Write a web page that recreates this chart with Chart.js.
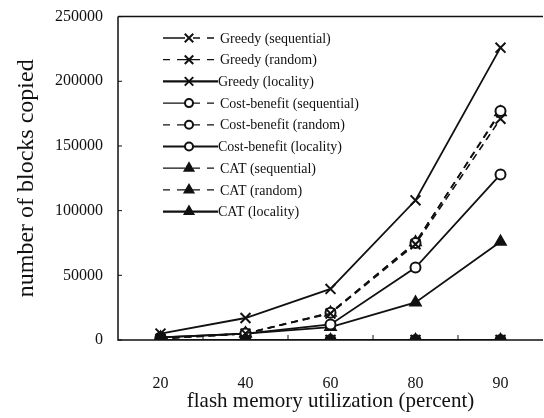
<!DOCTYPE html>
<html>
<head>
<meta charset="utf-8">
<script src="https://cdn.jsdelivr.net/npm/chart.js@4.4.1/dist/chart.umd.min.js"></script>
<style>
  html, body { margin: 0; padding: 0; background: #fff; overflow: hidden; }
  #wrap { width: 544px; height: 418px; overflow: hidden; }
</style>
</head>
<body>
<div id="wrap"><canvas id="chart" width="552" height="418"></canvas></div>
<script>
const utilization = ["20", "40", "60", "80", "90"];
const yTicks = [0, 50000, 100000, 150000, 200000, 250000];

const greedySeq = [0, 0, 0, 0, 0];
const greedyRand = [1000, 5000, 20500, 74000, 171000];
const greedyLoc = [5000, 17000, 39500, 108000, 226000];
const costSeq = [0, 0, 0, 0, 0];
const costRand = [1000, 5000, 21000, 75000, 177000];
const costLoc = [2000, 5000, 12000, 56000, 128000];
const catSeq = [0, 0, 0, 0, 0];
const catRand = [1000, 5000, 21000, 75500, 176000];
const catLoc = [2000, 5000, 10000, 29000, 76000];

const serif = "'Liberation Serif', 'DejaVu Serif', serif";
const ink = "#111";

function series(label, data, kind, marker) {
  const markers = {
    x: { pointStyle: "crossRot", radius: 7, bg: ink },
    o: { pointStyle: "circle", radius: 5, bg: "#fff" },
    t: { pointStyle: "triangle", radius: 6, bg: ink }
  };
  const m = markers[marker];
  return {
    label: label,
    data: data,
    kind: kind,
    // sequential CAT triangles sit on top of the pile at zero
    order: kind === "seq" && marker === "t" ? -1 : 0,
    borderColor: ink,
    backgroundColor: m.bg,
    borderWidth: kind === "loc" ? 1.8 : 1.6,
    borderDash: kind === "rand" ? [7, 5] : [],
    pointStyle: m.pointStyle,
    pointRadius: m.radius,
    pointBorderWidth: 2,
    pointBorderColor: ink,
    pointBackgroundColor: kind === "seq" ? ink : m.bg,
    tension: 0,
    fill: false
  };
}

const datasets = [
  series("Greedy (sequential)", greedySeq, "seq", "x"),
  series("Greedy (random)", greedyRand, "rand", "x"),
  series("Greedy (locality)", greedyLoc, "loc", "x"),
  series("Cost-benefit (sequential)", costSeq, "seq", "o"),
  series("Cost-benefit (random)", costRand, "rand", "o"),
  series("Cost-benefit (locality)", costLoc, "loc", "o"),
  series("CAT (sequential)", catSeq, "seq", "t"),
  series("CAT (random)", catRand, "rand", "t"),
  series("CAT (locality)", catLoc, "loc", "t")
];

// frame, inward ticks and the legend box
const framePlugin = {
  id: "frame",
  afterDraw(chart) {
    const ctx = chart.ctx;
    const a = chart.chartArea;
    const xs = chart.scales.x;
    const ys = chart.scales.y;
    ctx.save();
    ctx.strokeStyle = ink;
    ctx.lineWidth = 1.5;
    ctx.setLineDash([]);
    ctx.beginPath();
    ctx.moveTo(a.left, a.top);
    ctx.lineTo(a.right, a.top);
    ctx.moveTo(a.left, a.top);
    ctx.lineTo(a.left, a.bottom);
    ctx.lineTo(a.right, a.bottom);
    ctx.stroke();

    ctx.lineWidth = 1;
    ctx.beginPath();
    yTicks.forEach(v => {
      const y = ys.getPixelForValue(v);
      ctx.moveTo(a.left, y);
      ctx.lineTo(a.left + 4, y);
    });
    for (let i = 1; i < utilization.length; i++) {
      const x = (xs.getPixelForValue(i - 1) + xs.getPixelForValue(i)) / 2;
      ctx.moveTo(x, a.bottom);
      ctx.lineTo(x, a.bottom - 5);
    }
    ctx.stroke();

    // legend
    const lx = 163, top = 38, step = 21.7, mx = 189, tx = 220;
    ctx.font = "14px " + serif;
    ctx.textBaseline = "middle";
    chart.data.datasets.forEach((ds, i) => {
      const y = top + i * step;
      ctx.lineWidth = 1.3;
      ctx.beginPath();
      if (ds.kind === "seq") {
        ctx.moveTo(lx, y); ctx.lineTo(lx + 22, y);
        ctx.moveTo(mx + 4, y); ctx.lineTo(mx + 11, y);
        ctx.moveTo(mx + 18, y); ctx.lineTo(mx + 25, y);
      } else if (ds.kind === "rand") {
        ctx.moveTo(lx, y); ctx.lineTo(lx + 7, y);
        ctx.moveTo(lx + 14, y); ctx.lineTo(mx + 11, y);
        ctx.moveTo(mx + 18, y); ctx.lineTo(mx + 25, y);
      } else {
        ctx.lineWidth = 2.2;
        ctx.moveTo(lx, y); ctx.lineTo(tx - 2, y);
      }
      ctx.stroke();
      ctx.lineWidth = 2;
      ctx.fillStyle = ds.backgroundColor;
      Chart.helpers.drawPoint(ctx, {
        pointStyle: ds.pointStyle,
        radius: ds.pointRadius - 1,
        rotation: 0,
        borderWidth: 2
      }, mx, y);
      ctx.fillStyle = ink;
      ctx.fillText(ds.label, ds.kind === "loc" ? tx - 2 : tx, y + 1);
    });
    ctx.restore();
  }
};

new Chart(document.getElementById("chart"), {
  type: "line",
  data: { labels: utilization, datasets: datasets },
  options: {
    responsive: false,
    animation: false,
    layout: { padding: { top: 5, right: 2, left: 0, bottom: 0 } },
    plugins: {
      legend: { display: false },
      tooltip: { enabled: false }
    },
    scales: {
      x: {
        offset: true,
        grid: { display: false },
        border: { display: false },
        ticks: {
          color: ink,
          padding: 26,
          font: { family: serif, size: 16 }
        },
        title: {
          display: true,
          text: "flash memory utilization (percent)",
          color: ink,
          padding: { top: 4, bottom: 4 },
          font: { family: serif, size: 21 }
        },
        afterFit(scale) { scale.height = 78; }
      },
      y: {
        min: 0,
        max: 250000,
        afterBuildTicks(scale) { scale.ticks = yTicks.map(v => ({ value: v })); },
        grid: { display: false },
        border: { display: false },
        ticks: {
          color: ink,
          padding: 7,
          font: { family: serif, size: 16 },
          callback: v => String(v)
        },
        title: {
          display: true,
          text: "number of blocks copied",
          color: ink,
          padding: { top: 12, bottom: 4 },
          font: { family: serif, size: 24 }
        },
        afterFit(scale) { scale.width = 118; }
      }
    }
  },
  plugins: [framePlugin]
});
</script>
</body>
</html>
